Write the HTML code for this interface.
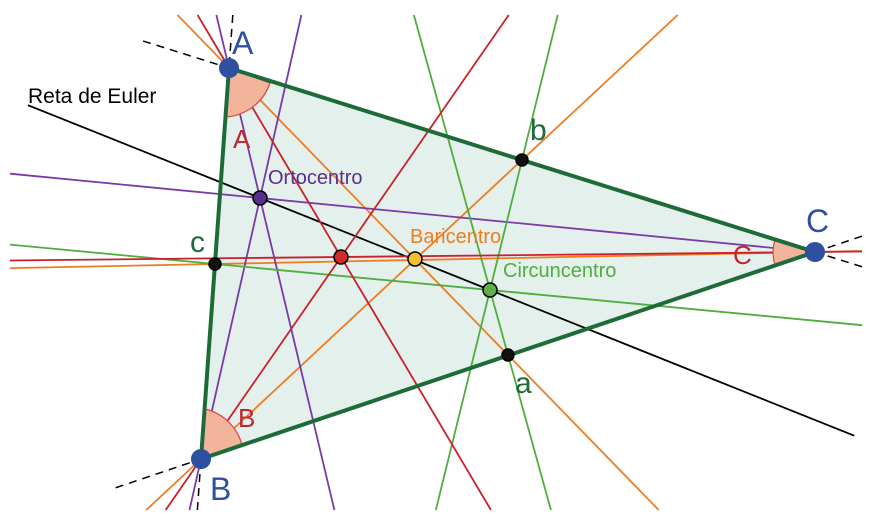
<!DOCTYPE html>
<html><head><meta charset="utf-8"><style>
html,body{margin:0;padding:0;background:#fff;width:875px;height:529px;overflow:hidden}
svg{display:block;position:absolute;left:0;top:0;overflow:hidden}
text{font-family:"Liberation Sans",sans-serif}
</style></head><body>
<svg id="s" width="875" height="529" viewBox="0 0 875 529" xmlns="http://www.w3.org/2000/svg">
<polygon points="229,68 815,252 201,459" fill="#e4f0ec"/>
<g id="L" stroke-width="1.8" fill="none"></g>
<path d="M229,68 L225,117 A50,50 0 0 0 270,83 Z" fill="#f2b49a" stroke="#d44" stroke-width="1.2"/>
<path d="M201,459 L205,409 A50,50 0 0 1 242,445 Z" fill="#f2b49a" stroke="#d44" stroke-width="1.2"/>
<path d="M815,252 L775,240 A42,42 0 0 0 775,265 Z" fill="#f2b49a" stroke="#d44" stroke-width="1.2"/>
<polygon points="229,68 815,252 201,459" fill="none" stroke="#1e6b3a" stroke-width="4"/>
<g stroke="#000" stroke-width="1.5">
<circle cx="215" cy="264" r="6" fill="#111"/>
<circle cx="522" cy="160" r="6" fill="#111"/>
<circle cx="508" cy="355" r="6" fill="#111"/>
<circle cx="260" cy="198" r="7" fill="#5b2d8e"/>
<circle cx="341" cy="257" r="7" fill="#d12a2a"/>
<circle cx="415" cy="259" r="7" fill="#f5c030"/>
<circle cx="490" cy="290" r="7" fill="#5fb04a"/>
</g>
<circle cx="229" cy="68" r="10" fill="#2f4fa0"/>
<circle cx="201" cy="459" r="10" fill="#2f4fa0"/>
<circle cx="815" cy="252" r="10" fill="#2f4fa0"/>
<text x="232" y="54" font-size="32" fill="#2f4fa0">A</text>
<text x="210" y="500" font-size="32" fill="#2f4fa0">B</text>
<text x="806" y="232" font-size="32" fill="#2f4fa0">C</text>
<text x="233" y="148" font-size="26" fill="#c0262e">A</text>
<text x="238" y="427" font-size="26" fill="#c0262e">B</text>
<text x="733" y="264" font-size="26" fill="#c0262e">C</text>
<text x="530" y="140" font-size="30" fill="#1e6b3a">b</text>
<text x="190" y="252" font-size="30" fill="#1e6b3a">c</text>
<text x="515" y="393" font-size="30" fill="#1e6b3a">a</text>
<text x="268" y="184" font-size="20" fill="#5b2d8e">Ortocentro</text>
<text x="410" y="243" font-size="20" fill="#ee7d22">Baricentro</text>
<text x="503" y="277" font-size="20" fill="#4fae3e">Circuncentro</text>
<text x="28" y="103" font-size="21" fill="#000">Reta de Euler</text>
</svg>
<script>
var g=document.getElementById('L'),NS='http://www.w3.org/2000/svg';
var XMIN=10,XMAX=862,YMIN=15,YMAX=510;
function clip(x1,y1,x2,y2){var t0=0,t1=1,dx=x2-x1,dy=y2-y1;
var p=[-dx,dx,-dy,dy],q=[x1-XMIN,XMAX-x1,y1-YMIN,YMAX-y1];
for(var i=0;i<4;i++){if(p[i]==0){if(q[i]<0)return null;}else{var t=q[i]/p[i];
if(p[i]<0){if(t>t1)return null;if(t>t0)t0=t;}else{if(t<t0)return null;if(t<t1)t1=t;}}}
return [x1+t0*dx,y1+t0*dy,x1+t1*dx,y1+t1*dy];}
function ln(x1,y1,x2,y2,c,d,dash){var dx=x2-x1,dy=y2-y1,l=Math.hypot(dx,dy);dx/=l;dy/=l;
var a=d===undefined?1200:d[0],b=d===undefined?1200:d[1];
var s=clip(x1-dx*a,y1-dy*a,x1+dx*b,y1+dy*b);if(!s)return;
var e=document.createElementNS(NS,'line');
e.setAttribute('x1',s[0]);e.setAttribute('y1',s[1]);e.setAttribute('x2',s[2]);e.setAttribute('y2',s[3]);
e.setAttribute('stroke',c);if(dash){e.setAttribute('stroke-dasharray','8,6');e.setAttribute('stroke-width','1.5')}g.appendChild(e);}
var A=[229,68],B=[201,459],C=[815,252],H=[260,198],I=[341,257],G=[415,259],O=[490,290];
var o='#ee7d22',p='#7a3aa8',gr='#4fae3e',r='#c8202e';
ln(260,198,490,290,'#000',[250,640]);
ln(A[0],A[1],508,355,o);ln(B[0],B[1],522,160,o);ln(C[0],C[1],215,264,o);
ln(A[0],A[1],H[0],H[1],p);ln(B[0],B[1],H[0],H[1],p);ln(C[0],C[1],H[0],H[1],p,[0,1200]);
ln(O[0],O[1],215,264,gr);ln(O[0],O[1],522,160,gr);ln(O[0],O[1],508,355,gr);
ln(A[0],A[1],I[0],I[1],r);ln(B[0],B[1],I[0],I[1],r);ln(C[0],C[1],I[0],I[1],r,[60,1200]);
ln(A[0],A[1],C[0],C[1],'#000',[90,0],1);ln(A[0],A[1],B[0],B[1],'#000',[60,0],1);
ln(B[0],B[1],C[0],C[1],'#000',[90,0],1);ln(B[0],B[1],A[0],A[1],'#000',[55,0],1);
ln(C[0],C[1],A[0],A[1],'#000',[50,0],1);ln(C[0],C[1],B[0],B[1],'#000',[50,0],1);
</script>
</body></html>
